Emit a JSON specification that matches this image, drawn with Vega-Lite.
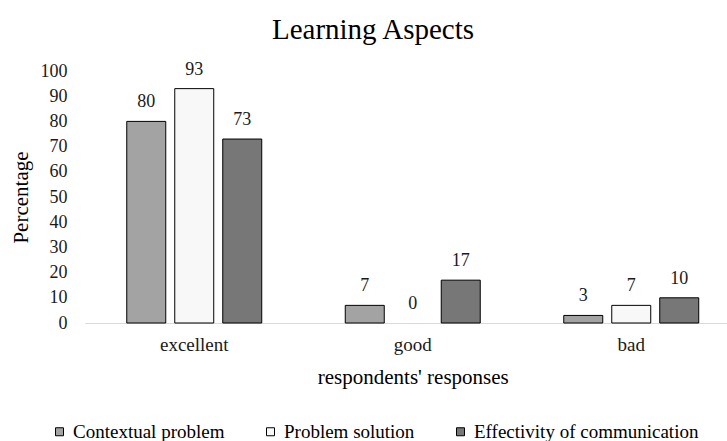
{
  "$schema": "https://vega.github.io/schema/vega-lite/v6.json",
  "width": 642,
  "height": 252,
  "autosize": {"type": "none"},
  "padding": {"left": 85, "top": 71, "right": 0, "bottom": 118},
  "background": "white",
  "config": {"font": "Liberation Serif", "view": {"stroke": null}},
  "title": {
    "text": "Learning Aspects",
    "fontSize": 29,
    "fontWeight": "normal",
    "font": "Liberation Serif",
    "color": "#000000",
    "anchor": "middle",
    "frame": "group",
    "dx": -33,
    "baseline": "alphabetic",
    "offset": -7
  },
  "data": {
    "values": [
      {"response": "excellent", "aspect": "Contextual problem", "value": 80},
      {"response": "excellent", "aspect": "Problem solution", "value": 93},
      {"response": "excellent", "aspect": "Effectivity of communication", "value": 73},
      {"response": "good", "aspect": "Contextual problem", "value": 7},
      {"response": "good", "aspect": "Problem solution", "value": 0},
      {"response": "good", "aspect": "Effectivity of communication", "value": 17},
      {"response": "bad", "aspect": "Contextual problem", "value": 3},
      {"response": "bad", "aspect": "Problem solution", "value": 7},
      {"response": "bad", "aspect": "Effectivity of communication", "value": 10}
    ]
  },
  "encoding": {
    "x": {
      "field": "response",
      "type": "nominal",
      "sort": ["excellent", "good", "bad"],
      "scale": {"range": [0, 655.5], "paddingInner": 0, "paddingOuter": 0},
      "axis": {
        "title": "respondents' responses",
        "titleFont": "Liberation Serif",
        "titleFontSize": 21,
        "titleFontWeight": "normal",
        "titleColor": "#000000",
        "titlePadding": 12,
        "labelFont": "Liberation Serif",
        "labelFontSize": 19,
        "labelColor": "#1a1a1a",
        "labelAngle": 0,
        "labelPadding": 12,
        "ticks": false,
        "domainColor": "#d9d9d9",
        "domainWidth": 1.2,
        "grid": false
      }
    },
    "xOffset": {
      "field": "aspect",
      "type": "nominal",
      "sort": ["Contextual problem", "Problem solution", "Effectivity of communication"],
      "scale": {"paddingInner": 0.1875, "paddingOuter": 0.87}
    },
    "y": {
      "field": "value",
      "type": "quantitative",
      "scale": {"domain": [0, 100], "nice": false},
      "axis": {
        "title": "Percentage",
        "titleFont": "Liberation Serif",
        "titleFontSize": 21,
        "titleFontWeight": "normal",
        "titleColor": "#000000",
        "titlePadding": 9,
        "labelFont": "Liberation Serif",
        "labelFontSize": 18,
        "labelColor": "#1a1a1a",
        "labelPadding": 18,
        "values": [0, 10, 20, 30, 40, 50, 60, 70, 80, 90, 100],
        "ticks": false,
        "domain": false,
        "grid": false
      }
    }
  },
  "layer": [
    {
      "transform": [{"filter": "datum.value > 0"}],
      "mark": {"type": "bar", "stroke": "#000000", "strokeWidth": 1},
      "encoding": {
        "color": {
          "field": "aspect",
          "type": "nominal",
          "sort": ["Contextual problem", "Problem solution", "Effectivity of communication"],
          "scale": {
            "domain": ["Contextual problem", "Problem solution", "Effectivity of communication"],
            "range": ["#a3a3a3", "#f8f8f8", "#777777"]
          },
          "legend": {
            "orient": "none",
            "legendX": -35,
            "legendY": 351,
            "direction": "horizontal",
            "title": null,
            "labelFont": "Liberation Serif",
            "labelFontSize": 19,
            "labelColor": "#000000",
            "labelLimit": 0,
            "labelOffset": 4,
            "columnPadding": 36,
            "symbolType": "square",
            "symbolSize": 64,
            "symbolStrokeColor": "#000000",
            "symbolStrokeWidth": 1,
            "symbolOpacity": 1
          }
        }
      }
    },
    {
      "mark": {"type": "text", "font": "Liberation Serif", "fontSize": 18, "baseline": "alphabetic", "dy": -14, "color": "#1a1a1a"},
      "encoding": {
        "text": {"field": "value", "type": "quantitative"}
      }
    }
  ]
}
